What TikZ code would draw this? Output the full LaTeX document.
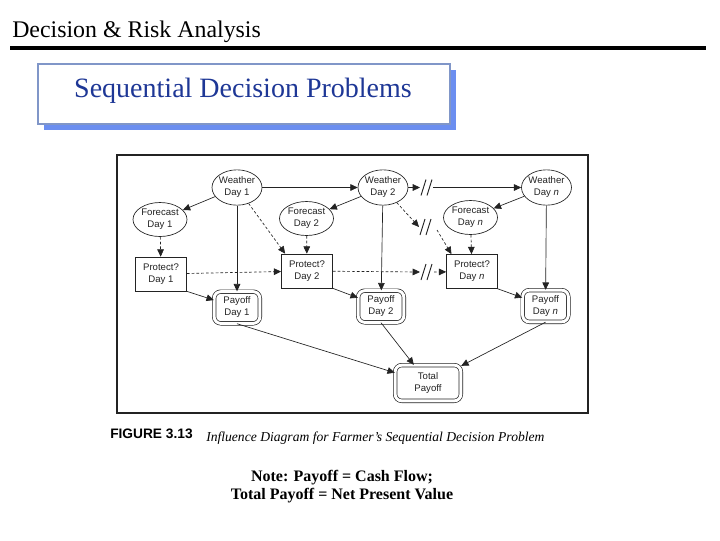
\documentclass[tikz,border=0pt]{standalone}
\usepackage{fontspec}
\setmainfont{Liberation Serif}
\setsansfont{Liberation Sans}
\usetikzlibrary{shapes.geometric,arrows.meta,calc}
\definecolor{shadowblue}{RGB}{107,142,240}
\definecolor{boxborder}{RGB}{128,150,200}
\definecolor{titleblue}{RGB}{30,55,150}
\definecolor{ink}{RGB}{35,35,35}
\begin{document}
\begin{tikzpicture}[x=0.75pt,y=-0.75pt,
  lbl/.style={font=\sffamily\fontsize{7.2}{9}\selectfont, align=center, text=ink, inner sep=0pt},
  chance/.style={lbl, ellipse, draw=ink, line width=0.5pt, inner xsep=-3pt, inner ysep=-1.5pt, minimum width=37.5pt, minimum height=26.5pt},
  fcast/.style={chance, minimum width=40.5pt, minimum height=25.5pt},
  decision/.style={lbl, rectangle, draw=ink, line width=0.5pt, minimum width=38.25pt, minimum height=25.5pt},
  payoff/.style={lbl, rectangle, rounded corners=5pt, draw=ink, line width=0.5pt, double=white, double distance=2.2pt, minimum width=34.3pt, minimum height=23.8pt},
  arr/.style={draw=ink, line width=0.5pt, -{Triangle[length=5.5pt,width=5pt]}},
  darr/.style={arr, dash pattern=on 2pt off 1.6pt},
  brk/.pic={\draw[ink, line width=0.7pt] (-5,8) -- (0,-8) (1,8) -- (6,-8);}
]
\useasboundingbox (0,0) rectangle (720,540);
\fill[white] (0,0) rectangle (720,540);

% header
\node[anchor=base west, inner sep=0pt, font=\fontsize{17.9}{21}\selectfont] (hdr) at (12,37) {Decision \& Risk Analysis};
\draw[line width=3.4pt] (10,48) -- (706,48);

% title box
\fill[shadowblue] (44,70) rectangle (456,130);
\draw[boxborder, fill=white, line width=1.4pt] (38,64) rectangle (450,124);
\node[anchor=base, inner sep=0pt, text=titleblue, font=\fontsize{21}{24}\selectfont] (ttl) at (243,97) {Sequential Decision Problems};

% figure frame
\draw[ink, line width=1.6pt] (117,155) rectangle (588,413);

% nodes
\node[chance] (w1) at (237,187.5) {Weather\\Day 1};
\node[fcast] (f1) at (160,219.5) {Forecast\\Day 1};
\node[chance] (w2) at (383,187.5) {Weather\\Day 2};
\node[fcast] (f2) at (306.5,218.5) {Forecast\\Day 2};
\node[chance] (wn) at (546.5,187.5) {Weather\\Day \textit{n}};
\node[fcast] (fn) at (470.5,217.5) {Forecast\\Day \textit{n}};
\node[decision] (pr1) at (161,274) {Protect?\\Day 1};
\node[decision] (pr2) at (307,271) {Protect?\\Day 2};
\node[decision] (prn) at (472,271.5) {Protect?\\Day \textit{n}};
\node[payoff] (p1) at (237,307.5) {Payoff\\Day 1};
\node[payoff] (p2) at (381,306.5) {Payoff\\Day 2};
\node[payoff] (pn) at (545.5,306) {Payoff\\Day \textit{n}};
\node[payoff, minimum width=49.3pt, minimum height=26.8pt] (tot) at (428,383) {Total\\Payoff};

% break coordinates
\coordinate (bw1) at (420,187.5);
\coordinate (bw2) at (433,187.5);
\coordinate (bd1) at (419,227);
\coordinate (bd2) at (437,230);
\coordinate (bp1) at (420,272);
\coordinate (bp2) at (434,272);
\pic at (426,187.5) {brk};
\pic at (425,227) {brk};
\pic at (426,272) {brk};

% connectors day 1
\draw[arr] (w1) -- (f1);
\draw[arr] (w1) -- (w2);
\draw[arr] (w1) -- (p1);
\draw[darr] (w1) -- ([xshift=3pt]pr2.north west);
\draw[darr] (f1) -- (pr1);
\draw[darr] (pr1) -- (pr2);
\draw[arr] (pr1.south east) -- (p1);
% day 2
\draw[arr] (w2) -- (f2);
\draw[darr] (f2) -- (pr2);
\draw[arr] (w2) -- (p2);
\draw[arr] (pr2.south east) -- (p2);
\draw[arr] (w2) -- (bw1);
\draw[arr] (bw2) -- (wn);
\draw[darr] (w2) -- (bd1);
\draw[darr] (bd2) -- ([xshift=4pt]prn.north west);
\draw[darr] (pr2) -- (bp1);
\draw[darr] (bp2) -- (prn);
% day n
\draw[arr] (wn) -- (fn);
\draw[darr] (fn) -- (prn);
\draw[arr] (wn) -- (pn);
\draw[arr] (prn.south east) -- (pn);
% total
\draw[arr] (p1.south) -- (tot);
\draw[arr] (p2.south) -- (tot);
\draw[arr] (pn.south) -- (tot);

% captions
\node[anchor=base west, inner sep=0pt, font=\sffamily\bfseries\fontsize{10.3}{12}\selectfont] (fig) at (110,438) {FIGURE 3.13};
\node[anchor=base west, inner sep=0pt, font=\itshape\fontsize{10.2}{12}\selectfont] (cap) at (206,441) {Influence Diagram for Farmer’s Sequential Decision Problem};
\node[anchor=base, inner sep=0pt, align=center, font=\bfseries\fontsize{12}{13.5}\selectfont] (note) at (342,499) {Note: Payoff = Cash Flow;\\Total Payoff = Net Present Value};
\end{tikzpicture}
\end{document}
